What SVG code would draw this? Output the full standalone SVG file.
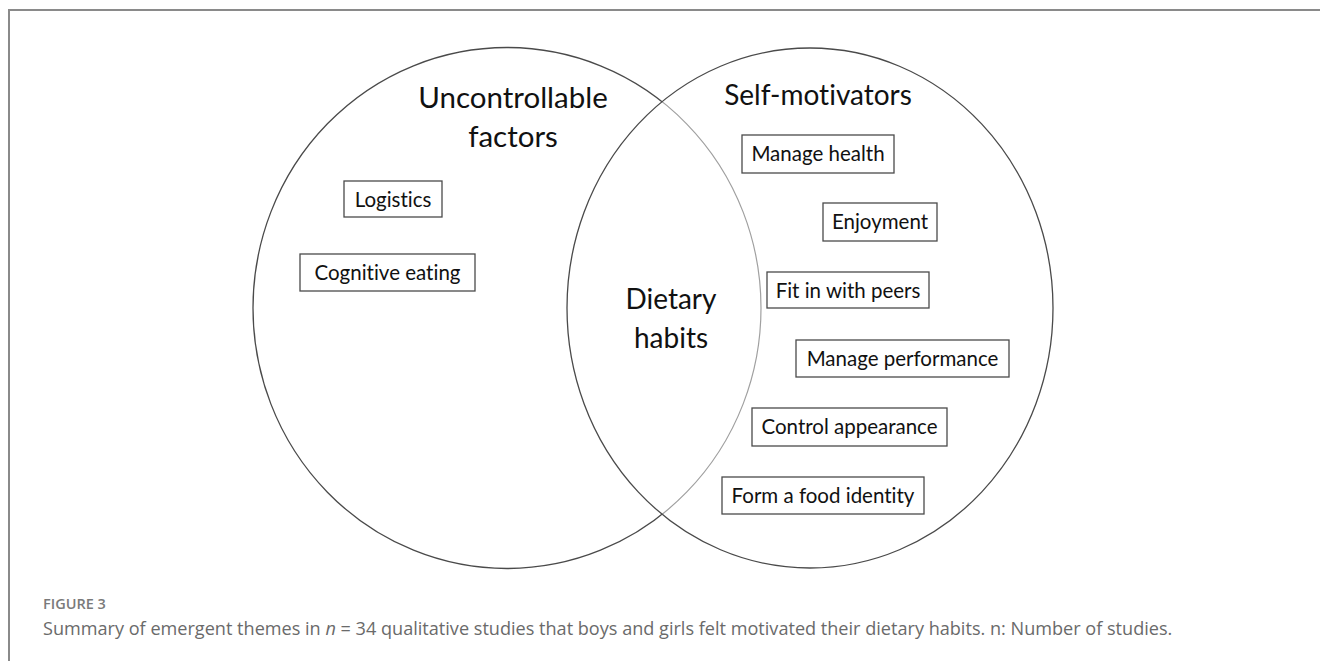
<svg xmlns="http://www.w3.org/2000/svg" width="1320" height="661" viewBox="0 0 1320 661">
<style>
text{font-variant-ligatures:none}
.frame{fill:none;stroke:#8a8a8a;stroke-width:2}
.venn{fill:none;stroke:#4a4a4a;stroke-width:1.3}
.venn-light{fill:none;stroke:#a0a0a0;stroke-width:1.2}
.box{fill:#fff;stroke:#4a4a4a;stroke-width:1.3}
.lbl{font-family:Lato,"Liberation Sans",sans-serif;font-size:20.5px;fill:#111;text-anchor:middle}
.title{font-family:Lato,"Liberation Sans",sans-serif;font-size:29.5px;fill:#111;text-anchor:middle}
.fig{font-family:"Open Sans","Liberation Sans",sans-serif;font-size:14.5px;font-weight:600;fill:#7a7a7a}
.cap{font-family:"Open Sans","Liberation Sans",sans-serif;font-size:18.1px;fill:#6a6a6a}
</style>
<defs>
<mask id="outsideRight">
<rect x="0" y="0" width="1320" height="661" fill="#fff"/>
<ellipse cx="810" cy="308" rx="243" ry="260" fill="#000"/>
</mask>
<clipPath id="insideRight">
<ellipse cx="810" cy="308" rx="243" ry="260"/>
</clipPath>
</defs>
<rect x="0" y="0" width="1320" height="661" fill="#fff"/>
<path class="frame" d="M9,661 V10 H1320"/>
<g id="circle-uncontrollable">
<ellipse class="venn" cx="507" cy="308" rx="254" ry="260.5" mask="url(#outsideRight)"/>
<ellipse class="venn-light" cx="507" cy="308" rx="254" ry="260.5" clip-path="url(#insideRight)"/>
<text class="title" x="513" y="108">Uncontrollable</text>
<text class="title" x="513" y="147">factors</text>
</g>
<g id="circle-self-motivators">
<ellipse class="venn" cx="810" cy="308" rx="243" ry="260"/>
<text class="title" x="818" y="105" style="font-size:28px">Self-motivators</text>
</g>
<g id="center-dietary-habits">
<text class="title" x="671" y="309" style="font-size:28px">Dietary</text>
<text class="title" x="671" y="348" style="font-size:28px">habits</text>
</g>
<g id="node-logistics">
<rect class="box" x="344" y="181" width="98" height="36"/>
<text class="lbl" x="393" y="207">Logistics</text>
</g>
<g id="node-cognitive-eating">
<rect class="box" x="300" y="254" width="175" height="37"/>
<text class="lbl" x="387.5" y="280">Cognitive eating</text>
</g>
<g id="node-manage-health">
<rect class="box" x="742" y="135" width="152" height="38"/>
<text class="lbl" x="818" y="161">Manage health</text>
</g>
<g id="node-enjoyment">
<rect class="box" x="823" y="203" width="114" height="38"/>
<text class="lbl" x="880" y="229">Enjoyment</text>
</g>
<g id="node-fit-in">
<rect class="box" x="767" y="272" width="162" height="36"/>
<text class="lbl" x="848" y="298">Fit in with peers</text>
</g>
<g id="node-manage-performance">
<rect class="box" x="796" y="340" width="213" height="37"/>
<text class="lbl" x="902.5" y="366">Manage performance</text>
</g>
<g id="node-control-appearance">
<rect class="box" x="752" y="408" width="195" height="38"/>
<text class="lbl" x="849.5" y="434">Control appearance</text>
</g>
<g id="node-food-identity">
<rect class="box" x="722" y="477" width="202" height="37"/>
<text class="lbl" x="823" y="503">Form a food identity</text>
</g>
<g id="connectors"></g>
<g id="caption">
<text class="fig" x="43" y="609">FIGURE 3</text>
<text class="cap" x="43" y="635">Summary of emergent themes in <tspan font-style="italic">n</tspan> = 34 qualitative studies that boys and girls felt motivated their dietary habits. n: Number of studies.</text>
</g>
</svg>
